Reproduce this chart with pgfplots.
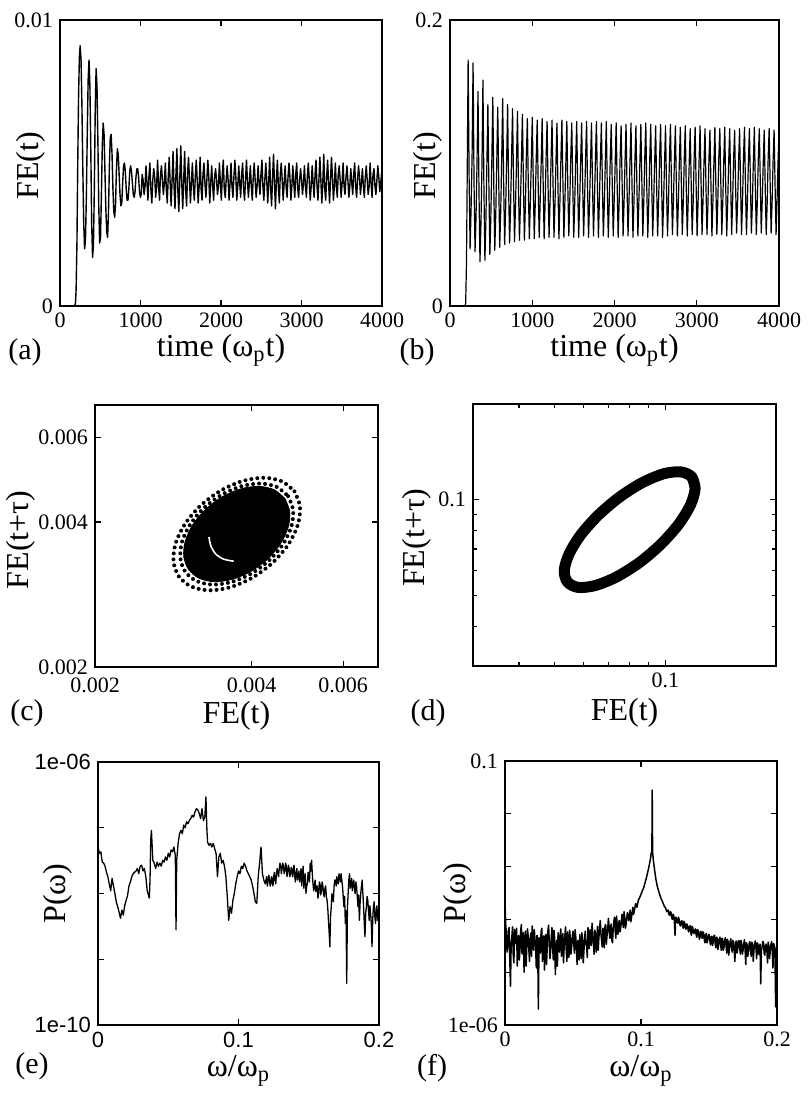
\documentclass[border=0pt]{standalone}
\usepackage{fontspec}
\setmainfont{Liberation Serif}
\setsansfont{Liberation Sans}
\usepackage{pgfplots}
\pgfplotsset{compat=1.18}

\pgfplotsset{
  panel/.style={
    scale only axis, anchor=south west,
    axis line style={line width=0.8pt},
    tick style={black, line width=0.6pt},
    major tick length=3pt, minor tick length=1.8pt,
    tick align=inside, scaled ticks=false,
    ticklabel style={font=\fontsize{11}{12}\selectfont},
    label style={font=\fontsize{16}{18}\selectfont},
  },
  trace/.style={black, line width=0.6pt, line join=round},
}

\begin{document}
\begin{tikzpicture}
\path (0,0) rectangle (401pt,549pt);

% (a) field energy, first run
\begin{axis}[panel, at={(30pt,396pt)}, width=161pt, height=143pt,
  xmin=0, xmax=4000, ymin=0, ymax=0.01,
  xtick={0,1000,2000,3000,4000}, xticklabels={0,1000,2000,3000,4000},
  ytick={0,0.01}, yticklabels={0,0.01},
  xlabel={time (ω\textsubscript{p}t)}, ylabel={FE(t)},
  xlabel style={at={(axis description cs:0.5,-0.155)},anchor=center},
  ylabel style={at={(axis description cs:-0.09,0.49)},anchor=center}]
\addplot[trace, line width=0.7pt] table {
t v
0 0
180 0
192 0.0001
200 0.0006
210 0.0022
220 0.0050
230 0.0073
240 0.0087
250 0.0091
261 0.0086
272 0.0070
283 0.0048
294 0.0029
305 0.0020
316 0.0023
327 0.0038
338 0.0060
349 0.0079
360 0.0086
371 0.0077
382 0.0055
393 0.0029
404 0.0017
415 0.0021
426 0.0041
437 0.0068
448 0.0083
459 0.0077
470 0.0058
481 0.0035
492 0.0022
503 0.0024
514 0.0039
525 0.0056
536 0.0064
547 0.0060
558 0.0047
569 0.0034
580 0.0026
591 0.0024
602 0.0033
613 0.0049
624 0.0059
635 0.0060
646 0.0053
657 0.0041
668 0.0033
679 0.0031
690 0.0036
701 0.0048
712 0.0055
723 0.0053
734 0.0046
745 0.0039
756 0.0035
767 0.0036
778 0.0043
789 0.0049
800 0.0050
811 0.0047
822 0.0041
833 0.0037
844 0.0037
855 0.0041
866 0.0047
877 0.0049
888 0.0047
899 0.0043
910 0.0039
921 0.0038
932 0.0040
943 0.0045
954 0.0048
965 0.0048
976 0.0045
987 0.0040
998 0.0038
1009 0.0039
1020 0.0046
1032 0.0044
1044 0.0039
1056 0.0042
1068 0.0049
1080 0.0043
1092 0.0037
1104 0.0045
1116 0.0050
1128 0.0041
1140 0.0036
1152 0.0044
1164 0.0048
1176 0.0045
1188 0.0038
1200 0.0042
1212 0.0051
1224 0.0042
1236 0.0037
1248 0.0046
1260 0.0049
1272 0.0044
1284 0.0039
1296 0.0043
1308 0.0050
1320 0.0041
1332 0.0036
1344 0.0045
1356 0.0052
1368 0.0043
1380 0.0035
1392 0.0044
1404 0.0054
1416 0.0042
1428 0.0034
1440 0.0046
1452 0.0055
1464 0.0040
1476 0.0033
1488 0.0045
1500 0.0056
1512 0.0043
1524 0.0034
1536 0.0044
1548 0.0054
1560 0.0041
1572 0.0035
1584 0.0046
1596 0.0052
1608 0.0044
1620 0.0036
1632 0.0043
1644 0.0050
1656 0.0042
1668 0.0037
1680 0.0045
1692 0.0051
1704 0.0044
1716 0.0036
1728 0.0042
1740 0.0052
1752 0.0041
1764 0.0037
1776 0.0046
1788 0.0050
1800 0.0043
1812 0.0038
1824 0.0044
1836 0.0051
1848 0.0045
1860 0.0036
1872 0.0043
1884 0.0049
1896 0.0042
1908 0.0037
1920 0.0045
1932 0.0048
1944 0.0044
1956 0.0039
1968 0.0042
1980 0.0050
1992 0.0043
2004 0.0037
2016 0.0046
2028 0.0051
2040 0.0041
2052 0.0038
2064 0.0044
2076 0.0049
2088 0.0044
2100 0.0037
2112 0.0043
2124 0.0050
2136 0.0042
2148 0.0038
2160 0.0045
2172 0.0051
2184 0.0045
2196 0.0037
2208 0.0042
2220 0.0049
2232 0.0043
2244 0.0038
2256 0.0046
2268 0.0050
2280 0.0041
2292 0.0037
2304 0.0044
2316 0.0051
2328 0.0044
2340 0.0038
2352 0.0043
2364 0.0049
2376 0.0042
2388 0.0037
2400 0.0045
2412 0.0050
2424 0.0044
2436 0.0038
2448 0.0042
2460 0.0049
2472 0.0043
2484 0.0039
2496 0.0046
2508 0.0051
2520 0.0042
2532 0.0037
2544 0.0044
2556 0.0050
2568 0.0044
2580 0.0036
2592 0.0043
2604 0.0052
2616 0.0041
2628 0.0035
2640 0.0045
2652 0.0053
2664 0.0043
2676 0.0034
2688 0.0044
2700 0.0051
2712 0.0042
2724 0.0036
2736 0.0046
2748 0.0050
2760 0.0044
2772 0.0037
2784 0.0043
2796 0.0049
2808 0.0042
2820 0.0038
2832 0.0045
2844 0.0050
2856 0.0045
2868 0.0037
2880 0.0042
2892 0.0049
2904 0.0043
2916 0.0038
2928 0.0046
2940 0.0050
2952 0.0041
2964 0.0038
2976 0.0044
2988 0.0048
3000 0.0044
3012 0.0039
3024 0.0043
3036 0.0049
3048 0.0042
3060 0.0038
3072 0.0045
3084 0.0050
3096 0.0044
3108 0.0037
3120 0.0042
3132 0.0049
3144 0.0043
3156 0.0038
3168 0.0046
3180 0.0051
3192 0.0042
3204 0.0037
3216 0.0044
3228 0.0052
3240 0.0044
3252 0.0036
3264 0.0043
3276 0.0053
3288 0.0041
3300 0.0037
3312 0.0045
3324 0.0051
3336 0.0043
3348 0.0036
3360 0.0044
3372 0.0052
3384 0.0045
3396 0.0037
3408 0.0042
3420 0.0050
3432 0.0042
3444 0.0038
3456 0.0046
3468 0.0049
3480 0.0044
3492 0.0038
3504 0.0043
3516 0.0050
3528 0.0042
3540 0.0039
3552 0.0045
3564 0.0049
3576 0.0044
3588 0.0038
3600 0.0042
3612 0.0048
3624 0.0043
3636 0.0039
3648 0.0046
3660 0.0050
3672 0.0042
3684 0.0038
3696 0.0044
3708 0.0049
3720 0.0045
3732 0.0039
3744 0.0043
3756 0.0048
3768 0.0042
3780 0.0038
3792 0.0045
3804 0.0049
3816 0.0044
3828 0.0039
3840 0.0042
3852 0.0050
3864 0.0043
3876 0.0038
3888 0.0046
3900 0.0048
3912 0.0042
3924 0.0039
3936 0.0044
3948 0.0049
3960 0.0045
3972 0.0040
3984 0.0043
3996 0.0047
};
\end{axis}

% (b) field energy, second run
\begin{axis}[panel, at={(225pt,396pt)}, width=164.5pt, height=143pt,
  xmin=0, xmax=4000, ymin=0, ymax=0.2,
  xtick={0,1000,2000,3000,4000}, xticklabels={0,1000,2000,3000,4000},
  ytick={0,0.2}, yticklabels={0,0.2},
  xlabel={time (ω\textsubscript{p}t)}, ylabel={FE(t)},
  xlabel style={at={(axis description cs:0.5,-0.155)},anchor=center},
  ylabel style={at={(axis description cs:-0.067,0.49)},anchor=center}]
\addplot[trace] table {
t v
0 0
180 0
190 0.002
200 0.030
210 0.100
220 0.172
232 0.090
244 0.040
256 0.068
268 0.105
280 0.170
292 0.085
304 0.038
316 0.062
328 0.100
340 0.150
352 0.080
364 0.031
376 0.058
388 0.098
400 0.158
412 0.082
424 0.032
436 0.060
448 0.100
460 0.141
472 0.086
484 0.036
496 0.062
508 0.101
520 0.146
532 0.084
544 0.039
556 0.064
568 0.100
580 0.139
592 0.087
604 0.041
616 0.066
628 0.102
640 0.145
652 0.085
664 0.043
676 0.068
688 0.101
700 0.141
712 0.083
724 0.044
736 0.069
748 0.103
760 0.138
772 0.086
784 0.045
796 0.070
808 0.100
820 0.136
832 0.084
844 0.046
856 0.071
868 0.102
880 0.134
892 0.087
904 0.046
916 0.070
928 0.104
940 0.131
952 0.083
964 0.047
976 0.072
988 0.101
1000 0.132
1012 0.086
1024 0.047
1036 0.071
1048 0.103
1060 0.130
1072 0.084
1084 0.048
1096 0.073
1108 0.100
1120 0.131
1132 0.087
1144 0.047
1156 0.072
1168 0.104
1180 0.129
1192 0.083
1204 0.048
1216 0.073
1228 0.102
1240 0.130
1252 0.086
1264 0.048
1276 0.071
1288 0.101
1300 0.128
1312 0.084
1324 0.047
1336 0.073
1348 0.103
1360 0.130
1372 0.088
1384 0.048
1396 0.072
1408 0.100
1420 0.129
1432 0.083
1444 0.049
1456 0.074
1468 0.104
1480 0.128
1492 0.086
1504 0.048
1516 0.072
1528 0.102
1540 0.129
1552 0.084
1564 0.048
1576 0.073
1588 0.101
1600 0.128
1612 0.087
1624 0.049
1636 0.074
1648 0.103
1660 0.129
1672 0.083
1684 0.048
1696 0.072
1708 0.100
1720 0.128
1732 0.086
1744 0.049
1756 0.073
1768 0.104
1780 0.129
1792 0.084
1804 0.048
1816 0.074
1828 0.102
1840 0.128
1852 0.087
1864 0.049
1876 0.072
1888 0.101
1900 0.129
1912 0.083
1924 0.048
1936 0.073
1948 0.103
1960 0.127
1972 0.086
1984 0.049
1996 0.074
2008 0.100
2020 0.128
2032 0.084
2044 0.048
2056 0.072
2068 0.104
2080 0.126
2092 0.087
2104 0.049
2116 0.073
2128 0.102
2140 0.127
2152 0.083
2164 0.049
2176 0.074
2188 0.101
2200 0.128
2212 0.086
2224 0.048
2236 0.072
2248 0.103
2260 0.126
2272 0.084
2284 0.049
2296 0.073
2308 0.100
2320 0.127
2332 0.087
2344 0.049
2356 0.074
2368 0.104
2380 0.128
2392 0.083
2404 0.048
2416 0.072
2428 0.102
2440 0.127
2452 0.086
2464 0.049
2476 0.073
2488 0.101
2500 0.126
2512 0.084
2524 0.049
2536 0.074
2548 0.103
2560 0.127
2572 0.087
2584 0.048
2596 0.072
2608 0.100
2620 0.126
2632 0.083
2644 0.049
2656 0.073
2668 0.104
2680 0.127
2692 0.086
2704 0.050
2716 0.074
2728 0.102
2740 0.126
2752 0.084
2764 0.049
2776 0.072
2788 0.101
2800 0.125
2812 0.087
2824 0.050
2836 0.073
2848 0.103
2860 0.126
2872 0.083
2884 0.049
2896 0.074
2908 0.100
2920 0.124
2932 0.086
2944 0.050
2956 0.072
2968 0.104
2980 0.125
2992 0.084
3004 0.049
3016 0.073
3028 0.102
3040 0.126
3052 0.087
3064 0.050
3076 0.074
3088 0.101
3100 0.124
3112 0.083
3124 0.050
3136 0.072
3148 0.103
3160 0.123
3172 0.086
3184 0.049
3196 0.073
3208 0.100
3220 0.125
3232 0.084
3244 0.050
3256 0.074
3268 0.104
3280 0.124
3292 0.087
3304 0.050
3316 0.072
3328 0.102
3340 0.125
3352 0.083
3364 0.049
3376 0.073
3388 0.101
3400 0.124
3412 0.086
3424 0.050
3436 0.074
3448 0.103
3460 0.123
3472 0.084
3484 0.051
3496 0.072
3508 0.100
3520 0.124
3532 0.087
3544 0.050
3556 0.073
3568 0.104
3580 0.125
3592 0.083
3604 0.050
3616 0.074
3628 0.102
3640 0.124
3652 0.086
3664 0.051
3676 0.072
3688 0.101
3700 0.125
3712 0.084
3724 0.050
3736 0.073
3748 0.103
3760 0.124
3772 0.087
3784 0.051
3796 0.074
3808 0.100
3820 0.123
3832 0.083
3844 0.050
3856 0.072
3868 0.104
3880 0.124
3892 0.086
3904 0.051
3916 0.073
3928 0.102
3940 0.123
3952 0.084
3964 0.050
3976 0.074
3988 0.101
4000 0.124
};
\end{axis}

% (c) delay embedding, first run
\begin{axis}[panel, at={(47.5pt,215.5pt)}, width=141.5pt, height=131pt,
  xmode=log, ymode=log,
  xmin=0.002, xmax=0.007, ymin=0.002, ymax=0.007,
  xtick={0.002,0.004,0.006}, xticklabels={0.002,0.004,0.006},
  ytick={0.002,0.004,0.006}, yticklabels={0.002,0.004,0.006},
  xticklabel style={yshift=-2pt},
  xlabel={FE(t)}, ylabel={FE(t+τ)},
  xlabel style={at={(axis description cs:0.5,-0.185)},anchor=center},
  ylabel style={at={(axis description cs:-0.261,0.485)},anchor=center}]
\addplot[black, line width=2pt, line cap=round, dash pattern=on 0pt off 3pt, smooth] coordinates {
(0.004835,0.004632) (0.004955,0.004309) (0.004907,0.003945) (0.004705,0.003593)
(0.004390,0.003293) (0.004016,0.003067) (0.003644,0.002930) (0.003318,0.002886)
(0.003065,0.002937) (0.002901,0.003080) (0.002831,0.003311) (0.002858,0.003616)
(0.002981,0.003970) (0.003195,0.004333) (0.003493,0.004651) (0.003848,0.004868)
(0.004227,0.004943) (0.004577,0.004858) (0.004835,0.004632)};
\addplot[black, line width=2pt, line cap=round, dash pattern=on 0pt off 3pt, smooth] coordinates {
(0.004700,0.004528) (0.004807,0.004241) (0.004770,0.003916) (0.004598,0.003601)
(0.004324,0.003331) (0.003995,0.003127) (0.003664,0.003004) (0.003368,0.002966)
(0.003136,0.003016) (0.002984,0.003151) (0.002918,0.003364) (0.002940,0.003643)
(0.003051,0.003962) (0.003244,0.004284) (0.003511,0.004562) (0.003828,0.004749)
(0.004164,0.004809) (0.004472,0.004730) (0.004700,0.004528)};
\addplot[black, fill=black, smooth] coordinates {
(0.004634,0.004477) (0.004735,0.004207) (0.004703,0.003901) (0.004545,0.003605)
(0.004291,0.003349) (0.003985,0.003157) (0.003674,0.003042) (0.003394,0.003007)
(0.003173,0.003056) (0.003027,0.003187) (0.002962,0.003391) (0.002983,0.003657)
(0.003086,0.003957) (0.003269,0.004259) (0.003520,0.004519) (0.003818,0.004690)
(0.004132,0.004744) (0.004420,0.004668) (0.004634,0.004477)};
\addplot[white, line width=0.8pt, smooth] coordinates {
(0.003312,0.003723) (0.003341,0.003565) (0.003415,0.003430) (0.003537,0.003349) (0.003696,0.003317)};
\end{axis}

% (d) delay embedding, second run
\begin{axis}[panel, at={(236.5pt,216pt)}, width=151.5pt, height=131pt,
  xmode=log, ymode=log,
  xmin=0.03, xmax=0.2, ymin=0.03, ymax=0.2,
  xtick={0.1}, xticklabels={0.1}, ytick={0.1}, yticklabels={0.1},
  minor xtick={0.04,0.05,0.06,0.07,0.08,0.09},
  minor ytick={0.04,0.05,0.06,0.07,0.08,0.09},
  xlabel={FE(t)}, ylabel={FE(t+τ)},
  xlabel style={at={(axis description cs:0.5,-0.18)},anchor=center},
  ylabel style={at={(axis description cs:-0.185,0.49)},anchor=center}]
\addplot[black, line width=5.5pt, line join=round, line cap=round, smooth] coordinates {
(0.1181,0.1178) (0.1205,0.1084) (0.1170,0.0962) (0.1086,0.0836)
(0.0971,0.0723) (0.0848,0.0633) (0.0735,0.0571) (0.0644,0.0537)
(0.0579,0.0530) (0.0542,0.0551) (0.0531,0.0598) (0.0547,0.0674)
(0.0589,0.0776) (0.0659,0.0897) (0.0755,0.1024) (0.0870,0.1135)
(0.0993,0.1208) (0.1104,0.1223) (0.1181,0.1178) (0.1205,0.1084)};
\end{axis}

% (e) power spectrum, first run
\begin{axis}[panel, at={(49pt,36.5pt)}, width=140.5pt, height=131.5pt,
  ymode=log, xmin=0, xmax=0.2, ymin=1e-10, ymax=1e-6,
  xtick={0,0.1,0.2}, xticklabels={0,0.1,0.2},
  ytick={1e-10,1e-9,1e-8,1e-7,1e-6}, yticklabels={1e-10,,,,1e-06},
  minor tick style={draw=none},
  ticklabel style={font=\sffamily\fontsize{11}{12}\selectfont},
  xlabel={ω/ω\textsubscript{p}}, ylabel={P(ω)},
  xlabel style={at={(axis description cs:0.5,-0.175)},anchor=center},
  ylabel style={at={(axis description cs:-0.144,0.5)},anchor=center}]
\addplot[trace, line width=0.65pt] table {
w p
0.000 5.1e-8
0.001 4.1e-8
0.002 4.3e-8
0.003 3.0e-8
0.004 2.9e-8
0.005 2.6e-8
0.006 2.1e-8
0.007 1.8e-8
0.008 1.4e-8
0.009 1.1e-8
0.010 1.7e-8
0.011 1.3e-8
0.012 1.0e-8
0.013 7.4e-9
0.014 6.3e-9
0.015 5.2e-9
0.016 4.2e-9
0.017 5.6e-9
0.018 4.7e-9
0.019 6.6e-9
0.020 7.9e-9
0.021 9.3e-9
0.022 1.3e-8
0.023 1.5e-8
0.024 1.8e-8
0.025 2.0e-8
0.026 2.1e-8
0.027 2.2e-8
0.028 2.4e-8
0.029 2.0e-8
0.030 2.6e-8
0.031 2.7e-8
0.032 2.2e-8
0.033 2.4e-8
0.034 1.8e-8
0.035 1.1e-8
0.036 9.3e-9
0.0365 8.5e-9
0.037 1.6e-8
0.0375 6.5e-8
0.038 9.1e-8
0.039 3.2e-8
0.040 2.9e-8
0.041 2.4e-8
0.042 3.0e-8
0.043 2.6e-8
0.044 2.9e-8
0.045 2.6e-8
0.046 3.2e-8
0.047 3.0e-8
0.048 3.6e-8
0.049 3.2e-8
0.050 4.1e-8
0.051 3.6e-8
0.052 4.6e-8
0.053 4.3e-8
0.054 5.1e-8
0.055 3.8e-8
0.0555 2.8e-9
0.056 3.2e-8
0.057 5.8e-8
0.058 8.1e-8
0.059 9.1e-8
0.060 8.1e-8
0.061 1.1e-7
0.062 1.0e-7
0.063 1.23e-7
0.064 1.15e-7
0.065 1.29e-7
0.066 1.38e-7
0.067 1.55e-7
0.068 1.45e-7
0.069 1.74e-7
0.070 1.95e-7
0.071 1.86e-7
0.072 1.66e-7
0.073 1.38e-7
0.074 1.95e-7
0.075 1.29e-7
0.076 1.45e-7
0.0768 2.95e-7
0.0775 9.1e-8
0.078 6.0e-8
0.079 5.4e-8
0.080 5.8e-8
0.081 5.1e-8
0.082 5.8e-8
0.083 4.8e-8
0.084 4.1e-8
0.085 1.8e-8
0.086 3.6e-8
0.087 4.1e-8
0.088 2.9e-8
0.089 3.2e-8
0.090 2.6e-8
0.091 1.8e-8
0.092 8.9e-9
0.093 3.9e-9
0.094 6.3e-9
0.095 5.0e-9
0.096 7.9e-9
0.097 1.0e-8
0.098 1.4e-8
0.099 1.8e-8
0.100 2.2e-8
0.101 2.0e-8
0.102 2.6e-8
0.103 2.4e-8
0.104 2.9e-8
0.105 2.6e-8
0.106 2.2e-8
0.107 2.0e-8
0.108 1.8e-8
0.109 1.6e-8
0.110 1.3e-8
0.111 1.0e-8
0.112 7.4e-9
0.113 7.1e-9
0.114 1.8e-8
0.115 2.9e-8
0.116 5.1e-8
0.117 2.0e-8
0.118 1.6e-8
0.119 1.4e-8
0.120 1.8e-8
0.1205 1.3e-8
0.121 1.5e-8
0.1215 1.9e-8
0.122 1.7e-8
0.1225 1.3e-8
0.123 1.4e-8
0.1235 1.8e-8
0.124 1.6e-8
0.1245 1.3e-8
0.125 1.8e-8
0.1255 2.1e-8
0.126 1.6e-8
0.1265 1.4e-8
0.127 2.0e-8
0.1275 2.4e-8
0.128 2.1e-8
0.1285 1.8e-8
0.129 2.4e-8
0.1295 2.9e-8
0.130 2.6e-8
0.1305 2.0e-8
0.131 2.4e-8
0.1315 2.9e-8
0.132 2.6e-8
0.1325 2.0e-8
0.133 2.2e-8
0.1335 2.9e-8
0.134 2.6e-8
0.1345 1.8e-8
0.135 2.1e-8
0.1355 2.7e-8
0.136 2.4e-8
0.1365 1.8e-8
0.137 2.0e-8
0.1375 2.5e-8
0.138 2.2e-8
0.1385 1.8e-8
0.139 2.4e-8
0.1395 2.7e-8
0.140 1.8e-8
0.1405 1.5e-8
0.141 2.1e-8
0.1415 2.4e-8
0.142 1.6e-8
0.1425 1.9e-8
0.143 2.2e-8
0.1435 1.5e-8
0.144 1.8e-8
0.1445 2.4e-8
0.145 1.3e-8
0.1455 1.9e-8
0.146 2.6e-8
0.1465 1.2e-8
0.147 1.6e-8
0.1475 2.0e-8
0.148 1.0e-8
0.1485 1.3e-8
0.149 1.4e-8
0.1495 2.1e-8
0.150 1.8e-8
0.1505 1.5e-8
0.151 2.9e-8
0.1515 2.2e-8
0.152 3.2e-8
0.1525 2.0e-8
0.153 1.4e-8
0.1535 1.1e-8
0.154 1.3e-8
0.1545 1.6e-8
0.155 1.07e-8
0.1555 1.3e-8
0.156 1.3e-8
0.1565 8.5e-9
0.157 1.0e-8
0.1575 1.5e-8
0.158 1.4e-8
0.1585 9.5e-9
0.159 1.1e-8
0.1595 1.5e-8
0.160 1.3e-8
0.1605 1.0e-8
0.161 8.9e-9
0.1615 1.2e-8
0.162 1.3e-8
0.1625 9.0e-9
0.163 7.9e-9
0.1635 6.0e-9
0.164 3.9e-9
0.1645 2.5e-9
0.165 1.55e-9
0.1655 4.5e-9
0.166 6.3e-9
0.1665 1.0e-8
0.167 8.9e-9
0.1675 7.5e-9
0.168 1.3e-8
0.1685 1.6e-8
0.169 1.6e-8
0.1695 1.3e-8
0.170 1.8e-8
0.1705 1.5e-8
0.171 1.4e-8
0.1715 2.0e-8
0.172 1.8e-8
0.1725 1.5e-8
0.173 2.0e-8
0.1735 1.6e-8
0.174 1.3e-8
0.1745 9.0e-9
0.175 6.3e-9
0.1755 9.0e-9
0.176 3.5e-9
0.1765 5.5e-9
0.177 4.3e-10
0.1775 6.0e-9
0.178 1.0e-8
0.1785 1.6e-8
0.179 2.0e-8
0.1795 1.2e-8
0.180 1.4e-8
0.1805 1.7e-8
0.181 1.1e-8
0.1815 1.4e-8
0.182 1.6e-8
0.1825 1.2e-8
0.183 1.0e-8
0.1835 1.5e-8
0.184 1.3e-8
0.1845 9.0e-9
0.185 6.3e-9
0.1855 9.5e-9
0.186 3.9e-9
0.1865 7.0e-9
0.187 1.0e-8
0.1875 1.3e-8
0.188 1.6e-8
0.1885 1.0e-8
0.189 6.3e-9
0.1895 3.5e-9
0.190 2.2e-9
0.1905 5.0e-9
0.191 6.3e-9
0.1915 9.0e-9
0.192 7.9e-9
0.1925 5.5e-9
0.193 3.9e-9
0.1935 6.5e-9
0.194 5.0e-9
0.1945 3.5e-9
0.195 1.55e-9
0.1955 4.0e-9
0.196 6.3e-9
0.1965 7.5e-9
0.197 4.5e-9
0.1975 3.5e-9
0.198 5.6e-9
0.1985 6.5e-9
0.199 3.9e-9
0.1995 4.5e-9
0.200 5.0e-9
};
\end{axis}

% (f) power spectrum, second run
\begin{axis}[panel, at={(252.5pt,36.5pt)}, width=136pt, height=132pt,
  ymode=log, xmin=0, xmax=0.2, ymin=1e-6, ymax=0.1,
  xtick={0,0.1,0.2}, xticklabels={0,0.1,0.2},
  ytick={1e-6,1e-5,1e-4,1e-3,1e-2,1e-1}, yticklabels={1e-06,,,,,0.1},
  minor tick style={draw=none},
  xlabel={ω/ω\textsubscript{p}}, ylabel={P(ω)},
  xlabel style={at={(axis description cs:0.5,-0.175)},anchor=center},
  ylabel style={at={(axis description cs:-0.173,0.5)},anchor=center}]
\addplot[trace, line width=0.75pt] table {
w p
0.000 2.0e-4
0.0005 8.0e-5
0.001 5.5e-5
0.0015 2.4e-5
0.002 3.0e-5
0.0025 6.2e-5
0.003 7.0e-5
0.0035 1.8e-5
0.004 5.4e-6
0.0045 3.6e-5
0.005 4.5e-5
0.0055 7.2e-5
0.006 2.2e-5
0.0065 1.5e-5
0.007 6.5e-5
0.0075 4.2e-5
0.008 3.5e-5
0.0085 6.8e-5
0.009 1.3e-5
0.0095 3.0e-5
0.010 5.0e-5
0.0105 1.7e-5
0.011 2.8e-5
0.0115 6.0e-5
0.012 8.0e-5
0.0125 2.2e-5
0.013 3.8e-5
0.0135 5.6e-5
0.014 1.0e-5
0.0145 3.4e-5
0.015 6.0e-5
0.0155 1.3e-5
0.016 3.2e-5
0.0165 6.6e-5
0.017 4.8e-5
0.0175 2.7e-5
0.018 1.6e-5
0.0185 4.4e-5
0.019 5.5e-5
0.0195 2.0e-5
0.020 7.5e-5
0.0205 3.5e-5
0.021 2.6e-5
0.0215 6.4e-5
0.022 4.2e-5
0.0225 2.9e-5
0.023 1.2e-5
0.0235 5.0e-5
0.024 3.8e-5
0.0245 2.0e-6
0.025 4.5e-5
0.0255 2.6e-5
0.026 2.3e-5
0.0265 5.8e-5
0.027 6.8e-5
0.0275 1.6e-5
0.028 3.4e-5
0.0285 4.9e-5
0.029 1.1e-5
0.0295 3.3e-5
0.030 5.2e-5
0.0305 1.4e-5
0.031 2.9e-5
0.0315 6.0e-5
0.032 7.8e-5
0.0325 3.9e-5
0.033 1.8e-5
0.0335 2.5e-5
0.034 4.6e-5
0.0345 7.0e-5
0.035 3.0e-5
0.0355 1.7e-5
0.036 6.2e-5
0.0365 4.3e-5
0.037 9.0e-6
0.0375 2.8e-5
0.038 4.0e-5
0.0385 1.3e-5
0.039 5.6e-5
0.0395 3.5e-5
0.040 2.4e-5
0.0405 5.0e-5
0.041 6.6e-5
0.0415 2.0e-5
0.042 3.6e-5
0.0425 5.4e-5
0.043 1.5e-5
0.0435 3.2e-5
0.044 4.9e-5
0.0445 7.2e-5
0.045 2.7e-5
0.0455 1.6e-5
0.046 5.8e-5
0.0465 3.7e-5
0.047 1.9e-5
0.0475 6.2e-5
0.048 4.4e-5
0.0485 2.2e-5
0.049 3.1e-5
0.0495 4.8e-5
0.050 6.0e-5
0.0505 3.6e-5
0.051 2.3e-5
0.0515 6.4e-5
0.052 4.7e-5
0.0525 2.7e-5
0.053 1.4e-5
0.0535 4.0e-5
0.054 3.3e-5
0.0545 1.7e-5
0.055 5.2e-5
0.0555 3.4e-5
0.056 1.8e-5
0.0565 5.6e-5
0.057 3.9e-5
0.0575 1.5e-5
0.058 2.5e-5
0.0585 4.5e-5
0.059 6.0e-5
0.0595 3.4e-5
0.060 3.0e-5
0.0605 1.9e-5
0.061 7.0e-5
0.0615 4.4e-5
0.062 2.8e-5
0.0625 6.4e-5
0.063 5.3e-5
0.0635 3.2e-5
0.064 8.5e-5
0.0645 4.8e-5
0.065 3.6e-5
0.0655 2.2e-5
0.066 6.3e-5
0.0665 5.2e-5
0.067 2.4e-5
0.0675 4.0e-5
0.068 7.4e-5
0.0685 2.6e-5
0.069 4.5e-5
0.0695 6.6e-5
0.070 9.5e-5
0.0705 5.4e-5
0.071 3.9e-5
0.0715 3.0e-5
0.072 6.8e-5
0.0725 4.6e-5
0.073 2.9e-5
0.0735 7.4e-5
0.074 8.0e-5
0.0745 3.4e-5
0.075 5.0e-5
0.0755 6.4e-5
0.076 1.05e-4
0.0765 7.4e-5
0.077 4.4e-5
0.0775 5.8e-5
0.078 8.2e-5
0.0785 4.0e-5
0.079 3.6e-5
0.0795 6.6e-5
0.080 9.0e-5
0.0805 1.1e-4
0.081 6.0e-5
0.0815 4.4e-5
0.082 1.15e-4
0.0825 7.4e-5
0.083 5.2e-5
0.0835 8.6e-5
0.084 9.5e-5
0.0845 5.8e-5
0.085 6.8e-5
0.0855 9.0e-5
0.086 1.25e-4
0.0865 9.0e-5
0.087 7.0e-5
0.0875 1.4e-4
0.088 1.1e-4
0.0885 6.8e-5
0.089 8.0e-5
0.0895 1.05e-4
0.090 1.35e-4
0.0905 1.1e-4
0.091 9.5e-5
0.0915 1.25e-4
0.092 1.5e-4
0.0925 9.0e-5
0.093 1.1e-4
0.0935 1.35e-4
0.094 1.7e-4
0.0945 1.25e-4
0.095 1.4e-4
0.096 2.0e-4
0.097 1.7e-4
0.098 2.3e-4
0.099 2.6e-4
0.100 3.0e-4
0.101 3.5e-4
0.102 4.0e-4
0.103 5.0e-4
0.104 6.2e-4
0.105 8.0e-4
0.106 1.05e-3
0.107 1.45e-3
0.1075 1.8e-3
0.1080 2.0e-3
0.1082 2.8e-2
0.1085 1.9e-3
0.109 1.35e-3
0.110 8.5e-4
0.111 5.6e-4
0.112 4.2e-4
0.113 3.4e-4
0.114 2.8e-4
0.115 2.4e-4
0.116 2.1e-4
0.117 1.8e-4
0.118 1.65e-4
0.119 1.4e-4
0.120 1.5e-4
0.1205 1.25e-4
0.121 1.2e-4
0.1215 1.4e-4
0.122 1.35e-4
0.1225 1.1e-4
0.123 1.0e-4
0.1235 1.25e-4
0.124 1.2e-4
0.1245 9.5e-5
0.125 5.0e-5
0.1255 1.1e-4
0.126 1.05e-4
0.1265 9.0e-5
0.127 8.5e-5
0.1275 1.1e-4
0.128 1.0e-4
0.1285 8.0e-5
0.129 7.5e-5
0.1295 9.0e-5
0.130 9.5e-5
0.1305 7.8e-5
0.131 6.8e-5
0.1315 9.2e-5
0.132 8.8e-5
0.1325 7.0e-5
0.133 6.5e-5
0.1335 8.2e-5
0.134 8.0e-5
0.1345 6.6e-5
0.135 5.8e-5
0.1355 7.2e-5
0.136 7.6e-5
0.1365 6.0e-5
0.137 5.0e-5
0.1375 7.4e-5
0.138 7.0e-5
0.1385 5.6e-5
0.139 5.4e-5
0.1395 6.2e-5
0.140 6.6e-5
0.1405 5.2e-5
0.141 4.6e-5
0.1415 6.4e-5
0.142 6.2e-5
0.1425 4.8e-5
0.143 4.2e-5
0.1435 5.6e-5
0.144 6.0e-5
0.1445 4.6e-5
0.145 4.4e-5
0.1455 5.8e-5
0.146 5.6e-5
0.1465 4.2e-5
0.147 3.6e-5
0.1475 5.0e-5
0.148 5.4e-5
0.1485 3.6e-5
0.149 4.0e-5
0.1495 5.0e-5
0.150 5.2e-5
0.1505 4.2e-5
0.151 3.3e-5
0.1515 4.6e-5
0.152 4.8e-5
0.1525 3.2e-5
0.153 3.6e-5
0.1535 4.8e-5
0.154 5.0e-5
0.1545 3.5e-5
0.155 2.9e-5
0.1555 4.6e-5
0.156 4.4e-5
0.1565 2.7e-5
0.157 3.2e-5
0.1575 4.2e-5
0.158 4.6e-5
0.1585 3.4e-5
0.159 2.6e-5
0.1595 4.4e-5
0.160 4.2e-5
0.1605 2.6e-5
0.161 3.0e-5
0.1615 4.0e-5
0.162 4.5e-5
0.1625 3.2e-5
0.163 2.3e-5
0.1635 4.2e-5
0.164 3.8e-5
0.1645 2.1e-5
0.165 2.8e-5
0.1655 3.8e-5
0.166 4.3e-5
0.1665 3.0e-5
0.167 2.4e-5
0.1675 4.0e-5
0.168 3.6e-5
0.1685 2.6e-5
0.169 1.6e-5
0.1695 3.6e-5
0.170 3.9e-5
0.1705 2.3e-5
0.171 2.7e-5
0.1715 3.8e-5
0.172 4.0e-5
0.1725 2.9e-5
0.173 2.2e-5
0.1735 4.0e-5
0.174 3.5e-5
0.1745 2.2e-5
0.175 2.6e-5
0.1755 3.4e-5
0.176 4.1e-5
0.1765 2.8e-5
0.177 1.4e-5
0.1775 3.6e-5
0.178 3.3e-5
0.1785 2.0e-5
0.179 2.5e-5
0.1795 3.5e-5
0.180 3.8e-5
0.1805 2.7e-5
0.181 2.0e-5
0.1815 3.7e-5
0.182 3.4e-5
0.1825 1.6e-5
0.183 2.6e-5
0.1835 3.3e-5
0.184 3.9e-5
0.1845 2.9e-5
0.185 1.8e-5
0.1855 3.6e-5
0.186 3.3e-5
0.1865 2.2e-5
0.187 2.4e-5
0.1875 3.4e-5
0.188 6.0e-6
0.1885 2.6e-5
0.189 3.0e-5
0.1895 3.8e-5
0.190 3.7e-5
0.1905 2.3e-5
0.191 2.1e-5
0.1915 3.2e-5
0.192 3.4e-5
0.1925 2.7e-5
0.193 1.5e-5
0.1935 3.7e-5
0.194 3.1e-5
0.1945 1.8e-5
0.195 2.5e-5
0.1955 3.3e-5
0.196 3.8e-5
0.1965 2.6e-5
0.197 1.2e-5
0.1975 3.5e-5
0.198 3.2e-5
0.1985 2.0e-5
0.199 2.2e-6
0.1995 3.0e-5
0.200 3.0e-5
};
\end{axis}

\begin{scope}[every node/.style={font=\fontsize{15}{16}\selectfont}]
\node at (12.5pt,373pt) {(a)};
\node at (208.5pt,373pt) {(b)};
\node at (13.5pt,192.5pt) {(c)};
\node at (214pt,192.5pt) {(d)};
\node at (16pt,16pt) {(e)};
\node at (216pt,15pt) {(f)};
\end{scope}
\end{tikzpicture}
\end{document}
